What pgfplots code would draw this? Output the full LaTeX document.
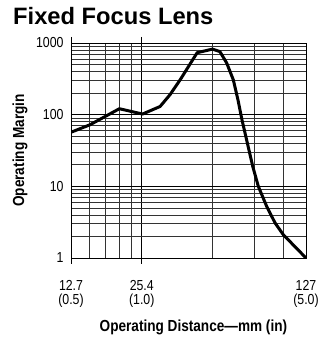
\documentclass[border=0pt]{standalone}
\usepackage{pgfplots}
\pgfplotsset{compat=1.18}
\usepackage{fontspec}
\setmainfont{Liberation Sans}[FakeStretch=0.85]
\newfontfamily\titlefont{Liberation Sans}
\begin{document}
\begin{tikzpicture}
\path (0pt,0pt) rectangle (316pt,339pt);
\node[anchor=base west, inner sep=0pt, font=\titlefont\bfseries\fontsize{23.7}{28}\selectfont] at (13pt,314pt) {Fixed Focus Lens};
\begin{axis}[at={(71pt,81pt)}, anchor=south west, scale only axis, width=235pt, height=215pt,
 xmode=log, ymode=log, xmin=12.7, xmax=127, ymin=1, ymax=1000,
 xtick={12.7,25.4}, xticklabels={{12.7\\(0.5)},{25.4\\(1.0)}},
 extra x ticks={127}, extra x tick labels={{127\\(5.0)}},
 extra x tick style={major tick length=0pt, grid=major, xticklabel style={yshift=-6pt}},
 ytick={1,10,100,1000}, yticklabels={1,10,100,1000},
 minor xtick={15.24,17.78,20.32,22.86,50.8,76.2,101.6},
 minor ytick={2,3,4,5,6,7,8,9,20,30,40,50,60,70,80,90,200,300,400,500,600,700,800,900},
 grid=both,
 major grid style={black, line width=0.8pt},
 minor grid style={black!80, line width=0.7pt},
 axis line style={black, line width=0.8pt},
 tick align=outside,
 major tick length=6pt, minor tick length=0pt,
 ytick style={draw=none},
 xtick style={black, line width=0.8pt},
 tick label style={font=\fontsize{14.5}{13.5}\selectfont},
 xticklabel style={align=center, yshift=-13pt},
 yticklabel style={xshift=2pt},
 xlabel={\bfseries\fontsize{16}{18}\selectfont Operating Distance---mm (in)},
 ylabel={\bfseries\fontsize{16}{18}\selectfont Operating Margin},
 xlabel style={at={(axis description cs:0.521,-0.344)}, anchor=base},
 ylabel style={at={(axis description cs:-0.2,0.5)}, anchor=base},
]
\addplot[black, line width=3pt, line join=round] coordinates {
(12.7,56.8) (15.3,72.3) (20.4,121) (25.6,102) (30.4,130) (33.5,190)
(37.0,306) (43.7,731) (50.8,822) (54.6,760) (58.4,525) (62.3,306)
(65.2,161) (67.8,85) (75.4,18.9) (79.6,10) (86.5,5.2) (93.8,3.08)
(101.7,2.11) (127,1)
};
\end{axis}
\end{tikzpicture}
\end{document}
